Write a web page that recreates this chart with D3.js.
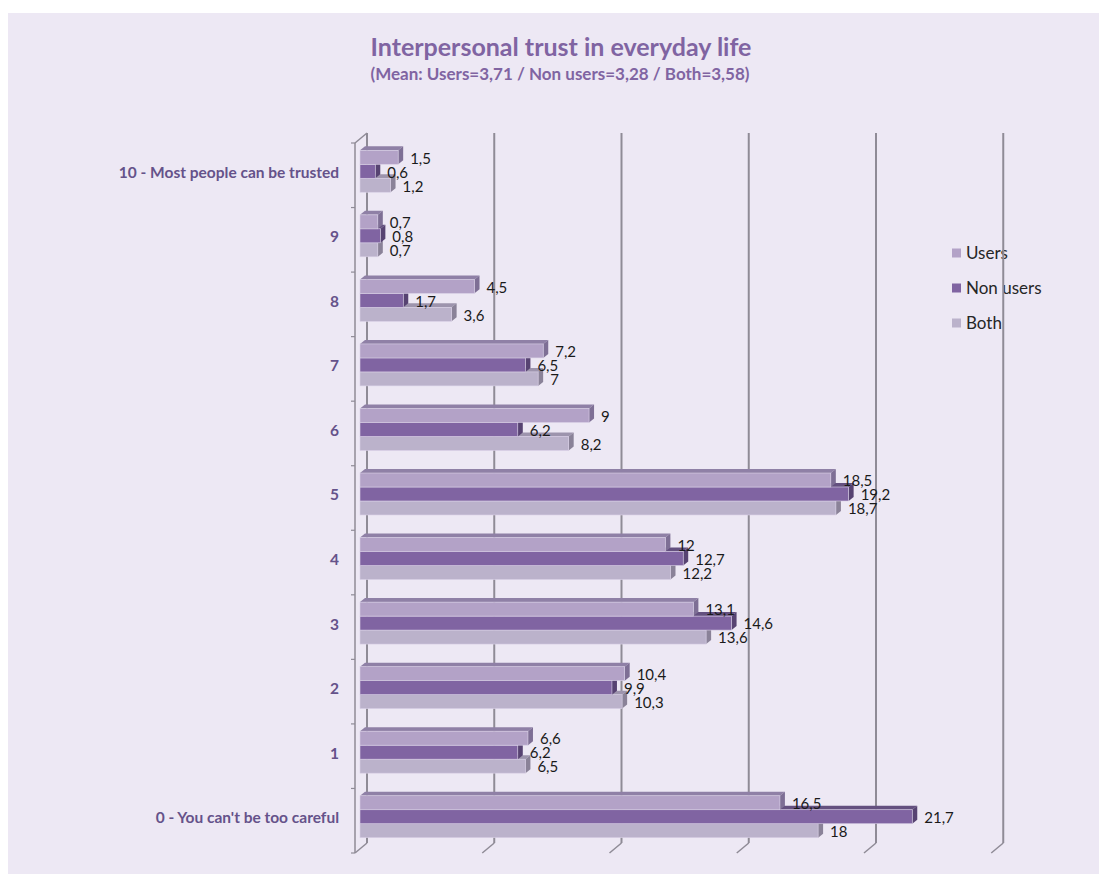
<!DOCTYPE html>
<html><head><meta charset="utf-8">
<script src="https://cdn.jsdelivr.net/npm/d3@7"></script>
<style>body{margin:0;background:#fff}svg{display:block}</style>
</head><body>
<svg id="c" width="1099" height="874"></svg>
<script>
const categories = ["10 - Most people can be trusted","9","8","7","6","5","4","3","2","1","0 - You can't be too careful"];
const seriesNames = ["Users","Non users","Both"];
const users    = [1.5,0.7,4.5,7.2,9,18.5,12,13.1,10.4,6.6,16.5];
const nonUsers = [0.6,0.8,1.7,6.5,6.2,19.2,12.7,14.6,9.9,6.2,21.7];
const both     = [1.2,0.7,3.6,7,8.2,18.7,12.2,13.6,10.3,6.5,18];
const xTicks = [0,5,10,15,20,25];
const title = "Interpersonal trust in everyday life";
const subtitle = "(Mean: Users=3,71 / Non users=3,28 / Both=3,58)";

const seriesValues = [users, nonUsers, both];
const front = ["#b3a2c7","#8064a2","#bbb2cb"];
const topC  = ["#8f80a6","#64507f","#9d94ad"];
const sideC = ["#7e6f95","#574372","#8a8298"];
const FONT = "Lato, 'Open Sans', sans-serif";

const svg = d3.select("#c");
svg.append("rect").attr("x",8).attr("y",13).attr("width",1091).attr("height",861).attr("fill","#ede8f4");

const x = d3.scaleLinear().domain([0,25]).range([355, 355+25*25.45]);
const y = d3.scaleBand().domain(categories).range([143,853]).paddingInner(0.35).paddingOuter(0.175);
const sub = d3.scaleBand().domain(seriesNames).range([0, y.bandwidth()]);
const step = y.step();
const BACK = [12,-10];   // wall depth
const BF = [5,-4];       // bar front offset
const BD = [5,-4];       // bar depth

// title
svg.append("text").attr("x",561).attr("y",56).attr("text-anchor","middle")
  .attr("font-family",FONT).attr("font-weight","bold").attr("font-size",25)
  .attr("fill","#8064a2").text(title);
svg.append("text").attr("x",560).attr("y",80).attr("text-anchor","middle")
  .attr("font-family",FONT).attr("font-weight","bold").attr("font-size",17)
  .attr("fill","#8064a2").text(subtitle);

// legend
const lg = svg.append("g");
seriesNames.forEach((s,i)=>{
  const cy = 253 + i*35;
  lg.append("rect").attr("x",952).attr("y",cy-4.5).attr("width",9).attr("height",9).attr("fill",front[i]);
  lg.append("text").attr("x",966).attr("y",cy).attr("dy","0.35em")
    .attr("font-family",FONT).attr("font-size",17).attr("fill","#262626").text(s);
});

const y0 = y.range()[0], y1 = y.range()[1];
const grid = svg.append("g").attr("stroke","#8f8b96").attr("fill","none");
// back wall gridlines
xTicks.forEach(t=>{
  const bx = x(t)+BACK[0];
  grid.append("line").attr("x1",bx).attr("x2",bx).attr("y1",y0+BACK[1]).attr("y2",y1+BACK[1]).attr("stroke-width",2);
  grid.append("line").attr("x1",x(t)).attr("y1",y1).attr("x2",bx).attr("y2",y1+BACK[1]).attr("stroke-width",1.5);
});
// left wall front edge and top
grid.append("line").attr("x1",x(0)).attr("x2",x(0)).attr("y1",y0).attr("y2",y1).attr("stroke-width",1.5);
grid.append("line").attr("x1",x(0)).attr("y1",y0).attr("x2",x(0)+BACK[0]).attr("y2",y0+BACK[1]).attr("stroke-width",1.5);
// left ticks
for(let i=0;i<=categories.length;i++){
  const ty = y0 + i*step;
  grid.append("line").attr("x1",x(0)-4).attr("x2",x(0)).attr("y1",ty).attr("y2",ty).attr("stroke-width",1.2);
}

// category labels
svg.append("g").selectAll("text").data(categories).join("text")
  .attr("x",339).attr("y",d=>y(d)+y.bandwidth()/2-3).attr("dy","0.35em").attr("text-anchor","end")
  .attr("font-family",FONT).attr("font-weight","bold").attr("font-size",15.5)
  .attr("fill","#65528a").text(d=>d);

// bars: draw bottom series first so upper bars sit in front of lower top faces
const bars = svg.append("g");
const labels = [];
categories.forEach((c,ci)=>{
  for(let si=seriesNames.length-1; si>=0; si--){
    const v = seriesValues[si][ci];
    const xl = x(0)+BF[0], xr = x(v)+BF[0];
    const yt = y(c)+sub(seriesNames[si])+BF[1], h = sub.bandwidth();
    const g = bars.append("g");
    g.append("path").attr("d",`M${xl},${yt}L${xl+BD[0]},${yt+BD[1]}L${xr+BD[0]},${yt+BD[1]}L${xr},${yt}Z`).attr("fill",topC[si]);
    g.append("path").attr("d",`M${xr},${yt}L${xr+BD[0]},${yt+BD[1]}L${xr+BD[0]},${yt+h+BD[1]}L${xr},${yt+h}Z`).attr("fill",sideC[si]);
    g.append("rect").attr("x",xl).attr("y",yt).attr("width",xr-xl).attr("height",h).attr("fill",front[si])
      .attr("stroke","#d9d0e6").attr("stroke-width",0.6);
    labels.push({x:xr+12, y:yt+h/2+1, t:String(v).replace(".",",")});
  }
});
svg.append("g").selectAll("text").data(labels).join("text")
  .attr("x",d=>d.x).attr("y",d=>d.y).attr("dy","0.35em")
  .attr("font-family",FONT).attr("font-size",15).attr("fill","#1a1a1a").text(d=>d.t);
</script>
</body></html>
